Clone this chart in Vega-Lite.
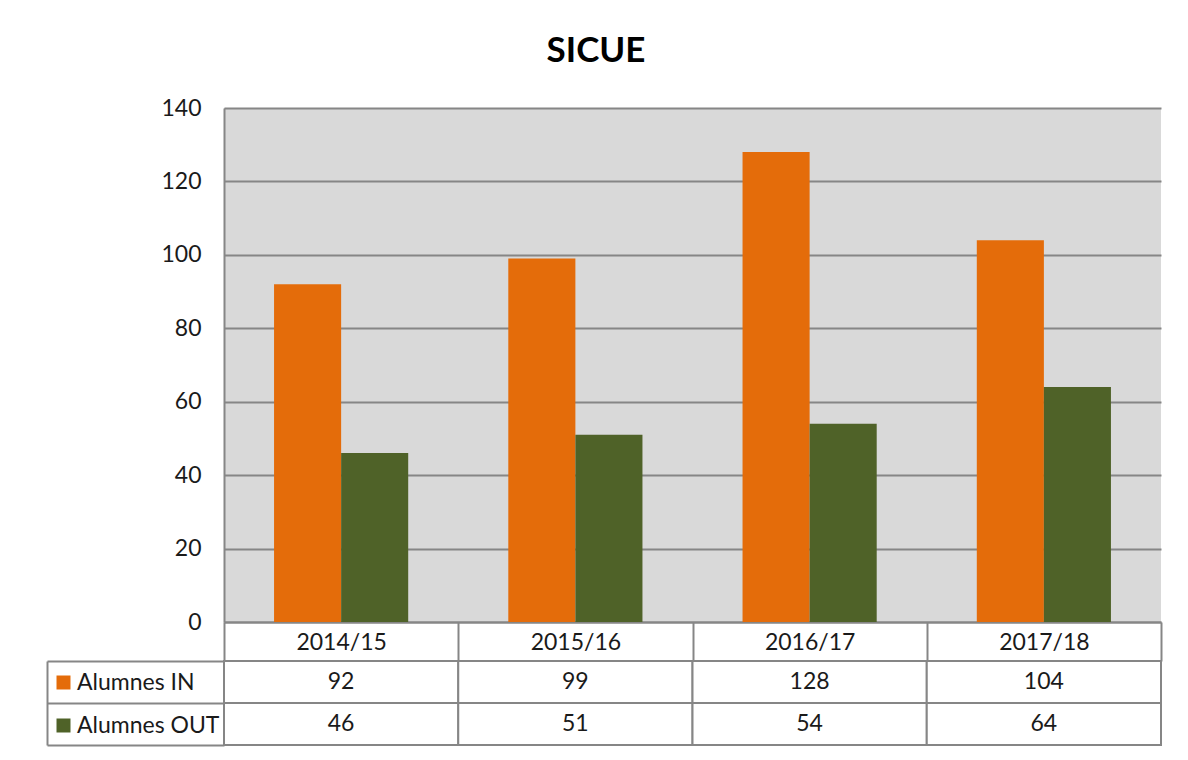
{
  "$schema": "https://vega.github.io/schema/vega-lite/v6.json",
  "background": "white",
  "padding": {"left": 46, "top": 34, "right": 26, "bottom": 12},
  "config": {"font": "Lato", "view": {"stroke": null}},
  "title": {"text": "SICUE", "font": "Lato", "fontSize": 35, "fontWeight": "bold", "color": "#000000", "anchor": "middle", "frame": "bounds", "offset": 28, "dx": -8},
  "datasets": {
    "t": [
      {"year": "2014/15", "serie": "Alumnes IN", "value": 92},
      {"year": "2014/15", "serie": "Alumnes OUT", "value": 46},
      {"year": "2015/16", "serie": "Alumnes IN", "value": 99},
      {"year": "2015/16", "serie": "Alumnes OUT", "value": 51},
      {"year": "2016/17", "serie": "Alumnes IN", "value": 128},
      {"year": "2016/17", "serie": "Alumnes OUT", "value": 54},
      {"year": "2017/18", "serie": "Alumnes IN", "value": 104},
      {"year": "2017/18", "serie": "Alumnes OUT", "value": 64}
    ]
  },
  "bounds": "flush",
  "spacing": 39,
  "vconcat": [
    {
      "width": 937,
      "height": 514,
      "view": {"fill": "#D9D9D9", "stroke": null},
      "data": {"name": "t"},
      "mark": {"type": "bar"},
      "encoding": {
        "x": {"field": "year", "type": "nominal", "sort": null,
          "scale": {"paddingInner": 0, "paddingOuter": 0},
          "axis": {"title": null, "labelAngle": 0, "domainColor": "#868686", "domainWidth": 2, "tickBand": "extent", "tickSize": 39, "tickColor": "#868686", "tickWidth": 2, "labelBaseline": "middle", "labelPadding": -19, "labelFontSize": 23, "labelColor": "#1a1a1a"}},
        "xOffset": {"field": "serie", "type": "nominal", "sort": ["Alumnes IN", "Alumnes OUT"], "scale": {"paddingInner": 0, "paddingOuter": 0.746}},
        "y": {"field": "value", "type": "quantitative", "scale": {"domain": [0, 140]},
          "axis": {"title": null, "values": [0, 20, 40, 60, 80, 100, 120, 140], "grid": true, "gridColor": "#868686", "gridWidth": 2, "gridOpacity": 1, "ticks": false, "domainColor": "#868686", "domainWidth": 2, "labelPadding": 23, "labelFontSize": 23, "labelColor": "#1a1a1a"}},
        "color": {"field": "serie", "type": "nominal",
          "scale": {"domain": ["Alumnes IN", "Alumnes OUT"], "range": ["#E46C0A", "#4F6228"]},
          "legend": {"orient": "none", "legendX": -172, "legendY": 563, "title": null, "symbolType": "square", "symbolSize": 196, "symbolStrokeWidth": 0, "labelFontSize": 23, "labelColor": "#1a1a1a", "rowPadding": 19, "labelOffset": 2}}
      }
    },
    {
      "width": 937,
      "height": 84,
      "data": {"name": "t"},
      "layer": [
        {
          "mark": {"type": "rect", "fill": "white", "stroke": "#868686", "strokeWidth": 2},
          "encoding": {
            "x": {"field": "year", "type": "nominal", "sort": null, "scale": {"paddingInner": 0, "paddingOuter": 0}, "axis": null},
            "y": {"field": "serie", "type": "nominal", "sort": ["Alumnes IN", "Alumnes OUT"], "scale": {"paddingInner": 0, "paddingOuter": 0},
              "axis": {"title": null, "orient": "left", "labels": false, "domain": false, "tickBand": "extent", "tickSize": 177, "tickColor": "#868686", "tickWidth": 2}}
          }
        },
        {
          "mark": {"type": "text", "fontSize": 23, "color": "#1a1a1a"},
          "encoding": {
            "x": {"field": "year", "type": "nominal", "sort": null, "axis": null},
            "y": {"field": "serie", "type": "nominal", "sort": ["Alumnes IN", "Alumnes OUT"],
              "axis": {"title": null, "orient": "left", "labels": false, "ticks": false, "domain": true, "offset": 177, "domainColor": "#868686", "domainWidth": 2}},
            "text": {"field": "value", "type": "quantitative"}
          }
        }
      ],
      "resolve": {"axis": {"y": "independent"}}
    }
  ]
}
